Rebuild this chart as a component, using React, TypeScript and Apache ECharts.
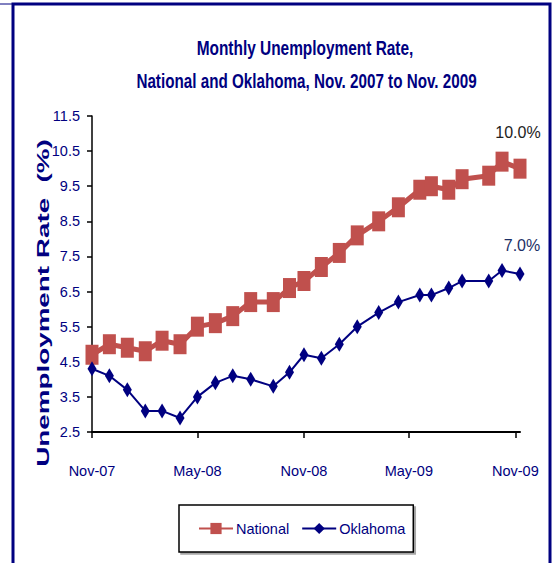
import React, { useEffect, useRef } from "react";
import * as echarts from "echarts";

const titleLines = ["Monthly Unemployment Rate,", "National and Oklahoma, Nov. 2007 to Nov. 2009"];
const yAxisTitle = "Unemployment Rate  (%)";
const seriesNames = ["National", "Oklahoma"];

const tickLabels = ["Nov-07", "May-08", "Nov-08", "May-09", "Nov-09"];
const tickDates = ["2007-11-01", "2008-05-01", "2008-11-01", "2009-05-01", "2009-11-01"];
const yTicks = [2.5, 3.5, 4.5, 5.5, 6.5, 7.5, 8.5, 9.5, 10.5, 11.5];

const pointDates = [
  "2007-11-01", "2007-12-01", "2008-01-01", "2008-02-01", "2008-03-01",
  "2008-04-01", "2008-05-01", "2008-06-01", "2008-07-01", "2008-08-01",
  "2008-09-09", "2008-10-07", "2008-11-01", "2008-12-01", "2009-01-01",
  "2009-02-01", "2009-03-10", "2009-04-13", "2009-05-20", "2009-06-09",
  "2009-07-09", "2009-08-01", "2009-09-16", "2009-10-09", "2009-11-09",
];
const national = [4.7, 5.0, 4.9, 4.8, 5.1, 5.0, 5.5, 5.6, 5.8, 6.2, 6.2, 6.6, 6.8, 7.2, 7.6, 8.1, 8.5, 8.9, 9.4, 9.5, 9.4, 9.7, 9.8, 10.2, 10.0];
const oklahoma = [4.3, 4.1, 3.7, 3.1, 3.1, 2.9, 3.5, 3.9, 4.1, 4.0, 3.8, 4.2, 4.7, 4.6, 5.0, 5.5, 5.9, 6.2, 6.4, 6.4, 6.6, 6.8, 6.8, 7.1, 7.0];

const toMs = (s: string) => Date.parse(s + "T00:00:00Z");
const FONT = "'Liberation Sans', Arial, sans-serif";
const NAVY = "#000080";
const RED = "#C0504D";

function buildSeriesData(values: number[], labelStyle: any) {
  return values.map((v, i) => {
    const item: any = { value: [toMs(pointDates[i]), v] };
    if (i === values.length - 1) item.label = { show: true, ...labelStyle };
    return item;
  });
}

export default function App() {
  const ref = useRef<HTMLDivElement>(null);
  useEffect(() => {
    document.body.style.margin = "0";
    const chart = echarts.init(ref.current!, null, { renderer: "svg" });
    const tickMs = tickDates.map(toMs);
    const titleStyle = {
      fontFamily: FONT,
      fontSize: 21,
      fontWeight: "bold",
      fill: NAVY,
      textAlign: "center",
      textVerticalAlign: "middle",
    };
    chart.setOption({
      animation: false,
      backgroundColor: "#fff",
      grid: { left: 92, right: 33, top: 116, bottom: 131, containLabel: false, outerBoundsMode: "none" },
      xAxis: {
        type: "value",
        min: toMs(pointDates[0]),
        max: toMs(pointDates[pointDates.length - 1]),
        splitLine: { show: false },
        axisLine: { lineStyle: { color: "#000", width: 2 } },
        axisTick: { show: true, customValues: tickMs, length: 6, lineStyle: { color: "#000", width: 1.5 } },
        axisLabel: {
          customValues: tickMs,
          margin: 31,
          fontFamily: FONT,
          fontSize: 14.5,
          color: NAVY,
          formatter: (v: number) => {
            const i = tickMs.indexOf(v);
            return i >= 0 ? tickLabels[i] : "";
          },
        },
      },
      yAxis: {
        type: "value",
        min: yTicks[0],
        max: yTicks[yTicks.length - 1],
        splitLine: { show: false },
        axisLine: { show: true, lineStyle: { color: "#000", width: 1.5 } },
        axisTick: { show: true, customValues: yTicks, length: 5, lineStyle: { color: "#000", width: 1.5 } },
        axisLabel: {
          customValues: yTicks,
          margin: 12,
          fontFamily: FONT,
          fontSize: 14.5,
          color: NAVY,
          formatter: (v: number) => v.toFixed(1),
        },
      },
      legend: {
        left: 179,
        top: 505,
        orient: "horizontal",
        padding: [16, 8, 16, 19],
        itemGap: 12,
        itemWidth: 34,
        itemHeight: 14,
        borderColor: "#000",
        borderWidth: 1.5,
        backgroundColor: "#fff",
        shadowColor: "rgba(0,0,0,0.35)",
        shadowOffsetX: 2,
        shadowOffsetY: 2,
        shadowBlur: 0,
        textStyle: { fontFamily: FONT, fontSize: 14.5, color: NAVY, padding: [0, 0, 0, -2] },
        data: seriesNames,
      },
      graphic: [
        {
          type: "rect",
          shape: { x: 13, y: 4, width: 537, height: 620 },
          style: { fill: "none", stroke: NAVY, lineWidth: 3 },
          silent: true,
        },
        {
          type: "line",
          shape: { x1: 0, y1: 4, x2: 13, y2: 4 },
          style: { stroke: NAVY, lineWidth: 1 },
          silent: true,
        },
        {
          type: "text",
          x: 305,
          y: 47.5,
          scaleX: 0.735,
          style: { text: titleLines[0], ...titleStyle },
          silent: true,
        },
        {
          type: "text",
          x: 306.5,
          y: 81,
          scaleX: 0.725,
          style: { text: titleLines[1], ...titleStyle },
          silent: true,
        },
        {
          type: "text",
          x: 43,
          y: 303,
          rotation: Math.PI / 2,
          scaleX: 1.74,
          style: {
            text: yAxisTitle,
            fontFamily: FONT,
            fontWeight: "bold",
            fontSize: 16,
            fill: NAVY,
            textAlign: "center",
            textVerticalAlign: "middle",
          },
          silent: true,
        },
      ],
      series: [
        {
          name: seriesNames[0],
          type: "line",
          data: buildSeriesData(national, {
            position: "top",
            distance: 18,
            offset: [-2, 0],
            fontFamily: FONT,
            fontSize: 16,
            color: "#222",
            formatter: (p: any) => p.value[1].toFixed(1) + "%",
          }),
          symbol: "rect",
          symbolSize: [13, 20],
          itemStyle: { color: RED },
          lineStyle: { color: RED, width: 5 },
          z: 2,
        },
        {
          name: seriesNames[1],
          type: "line",
          data: buildSeriesData(oklahoma, {
            position: "top",
            distance: 13,
            offset: [2, 0],
            fontFamily: FONT,
            fontSize: 16,
            color: "#1c2f66",
            formatter: (p: any) => p.value[1].toFixed(1) + "%",
          }),
          symbol: "diamond",
          symbolSize: [9, 15],
          itemStyle: { color: NAVY },
          lineStyle: { color: NAVY, width: 2 },
          z: 3,
        },
      ],
    });
    return () => chart.dispose();
  }, []);
  return <div ref={ref} style={{ width: 553, height: 563 }} />;
}
